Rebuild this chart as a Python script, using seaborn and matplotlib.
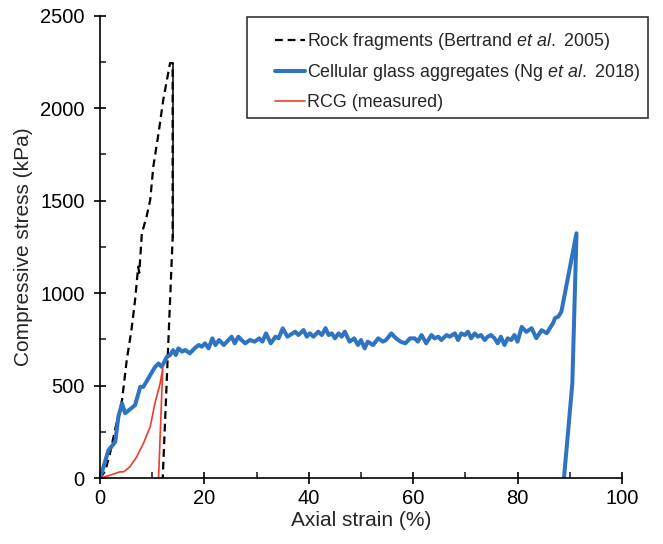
import numpy as np
import pandas as pd
import matplotlib
matplotlib.use("Agg")
import matplotlib.pyplot as plt
import seaborn as sns
from matplotlib.ticker import MultipleLocator
from matplotlib.patches import Rectangle

# ---- data ----
rock_strain = [0.0, 1.0, 1.9, 3.0, 4.2, 5.1, 6.0, 6.7, 7.3, 7.5, 8.0, 8.9, 9.6, 10.2, 11.2, 12.1, 13.4, 13.9, 13.9, 12.0]
rock_stress = [0, 40, 134, 280, 422, 638, 800, 963, 1143, 1110, 1324, 1414, 1504, 1685, 1865, 2045, 2244, 2244, 1300, 0]

cga_strain = [0.0, 1.6, 2.9, 3.5, 4.2, 4.8, 6.7, 7.7, 8.3, 9.6, 10.5, 11.2, 11.8, 12.8, 13.4, 14.0,
              14.5, 15.0, 15.7, 16.3, 17.2, 18.1, 18.9, 19.5, 20.1, 20.8, 21.5, 22.1, 22.8, 23.7, 24.3,
              25.2, 25.8, 26.5, 27.1, 27.8, 28.7, 29.6, 30.5, 31.1, 31.8, 32.7, 33.6, 34.2, 35.0, 35.9,
              36.4, 37.4, 38.0, 39.0, 39.6, 40.2, 40.9, 41.8, 42.5, 43.2, 43.8, 44.4, 45.0, 45.7, 46.3,
              46.9, 47.8, 48.7, 49.4, 50.0, 50.7, 51.3, 52.3, 53.3, 54.2, 54.8, 55.8, 56.7, 57.6, 58.5,
              59.4, 60.3, 60.9, 61.6, 62.5, 63.5, 64.1, 64.8, 65.4, 66.4, 67.0, 68.0, 68.6, 69.2, 69.9,
              70.5, 71.1, 71.8, 72.4, 73.0, 73.7, 74.3, 74.9, 75.6, 76.2, 76.8, 77.5, 78.1, 78.8, 79.4,
              80.0, 80.8, 81.7, 82.7, 83.6, 84.6, 85.6, 86.8, 87.2, 87.8, 88.4, 91.3, 90.5, 88.9]
cga_stress = [0, 151, 196, 332, 404, 351, 395, 494, 494, 557, 600, 620, 602, 656, 665, 692,
              666, 702, 684, 693, 675, 702, 720, 711, 729, 702, 756, 720, 747, 720, 738,
              765, 729, 765, 747, 729, 747, 738, 756, 738, 783, 729, 765, 756, 810, 765,
              774, 792, 774, 801, 765, 783, 765, 792, 774, 811, 774, 783, 756, 783, 765,
              792, 738, 756, 720, 747, 702, 738, 720, 756, 738, 747, 783, 756, 738, 729,
              756, 756, 738, 774, 729, 774, 756, 765, 747, 774, 765, 783, 747, 783, 774,
              792, 756, 783, 765, 774, 747, 765, 774, 756, 729, 765, 720, 756, 747, 774,
              738, 818, 791, 811, 757, 800, 784, 838, 866, 873, 900, 1324, 512, 0]

rcg_strain = [0.0, 1.9, 3.8, 4.5, 5.7, 7.0, 8.3, 9.6, 10.5, 11.5, 12.0, 11.2]
rcg_stress = [0, 16, 34, 34, 61, 115, 188, 278, 404, 512, 593, 0]

labels = [r"Rock fragments (Bertrand $\mathit{et\ al.}$ 2005)",
          r"Cellular glass aggregates (Ng $\mathit{et\ al.}$ 2018)",
          "RCG (measured)"]

x_ticks = [0, 20, 40, 60, 80, 100]
y_ticks = [0, 500, 1000, 1500, 2000, 2500]

# ---- style ----
sns.set_style("ticks")
plt.rcParams["font.family"] = ["Liberation Sans", "DejaVu Sans"]
plt.rcParams["mathtext.fontset"] = "custom"
plt.rcParams["mathtext.it"] = "Liberation Sans:italic"
plt.rcParams["mathtext.rm"] = "Liberation Sans"

fig = plt.figure(figsize=(6.63, 5.44), dpi=100)
ax = fig.add_axes([0.151, 0.121, 0.787, 0.850])

df_rock = pd.DataFrame({"strain": rock_strain, "stress": rock_stress})
df_cga = pd.DataFrame({"strain": cga_strain, "stress": cga_stress})
df_rcg = pd.DataFrame({"strain": rcg_strain, "stress": rcg_stress})

BLUE = "#2f74c0"
RED = "#f03c2a"

sns.lineplot(data=df_rock, x="strain", y="stress", sort=False, estimator=None, ax=ax,
             color="black", linestyle=(0, (3.5, 2.2)), linewidth=1.6, label=labels[0])
# the unloading drop at the peak appears as a continuous thin stroke
sns.lineplot(data=df_rock.iloc[16:19], x="strain", y="stress", sort=False, estimator=None,
             ax=ax, color="black", linewidth=1.1, legend=False)
sns.lineplot(data=df_cga, x="strain", y="stress", sort=False, estimator=None, ax=ax,
             color=BLUE, linewidth=2.9, label=labels[1])
sns.lineplot(data=df_rcg, x="strain", y="stress", sort=False, estimator=None, ax=ax,
             color=RED, linewidth=1.2, label=labels[2])

ax.set_xlim(0, 100)
ax.set_ylim(0, 2500)
ax.set_xticks(x_ticks)
ax.set_yticks(y_ticks)
ax.xaxis.set_minor_locator(MultipleLocator(10))
ax.yaxis.set_minor_locator(MultipleLocator(250))
ax.tick_params(axis="both", which="major", direction="inout", length=8, width=1.2,
               labelsize=14.5, color="black", labelcolor="black")
ax.tick_params(axis="both", which="minor", direction="in", length=4, width=1.2)
ax.tick_params(axis="x", which="major", pad=4)
ax.tick_params(axis="y", which="major", pad=7)
for s in ["top", "right"]:
    ax.spines[s].set_visible(False)
for s in ["left", "bottom"]:
    ax.spines[s].set_linewidth(1.2)
    ax.spines[s].set_color("black")

ax.set_xlabel("Axial strain (%)", fontsize=15, labelpad=2)
ax.set_ylabel("Compressive stress (kPa)", fontsize=15, labelpad=5)

# legend (frame drawn as a separate rectangle to reproduce the wide left margin)
handles, _ = ax.get_legend_handles_labels()
if ax.get_legend():
    ax.get_legend().remove()
leg = fig.legend(handles, labels, loc="upper left",
                 bbox_to_anchor=(275 / 663, 1 - 31 / 544), bbox_transform=fig.transFigure,
                 fontsize=12.9, frameon=False, borderpad=0, borderaxespad=0,
                 handlelength=1.65, handletextpad=0.12, labelspacing=0.58)
frame = Rectangle((247 / 663, 1 - 118 / 544), (648 - 247) / 663, (118 - 17) / 544,
                  transform=fig.transFigure, fill=True, facecolor="white",
                  edgecolor="#333333", linewidth=1.2, zorder=0)
fig.patches.append(frame)

fig.savefig("out.png", dpi=100)
